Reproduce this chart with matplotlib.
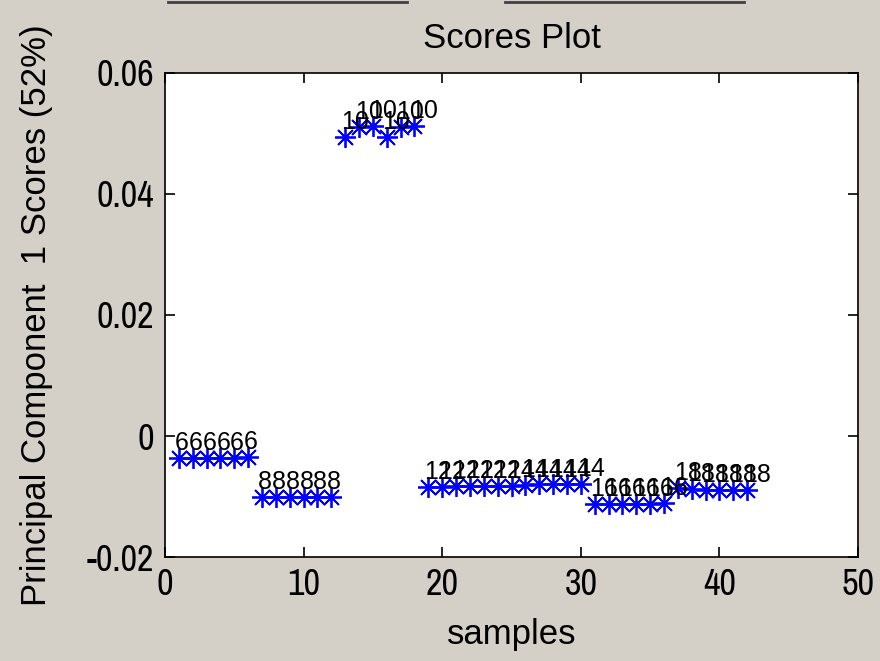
import matplotlib
matplotlib.use("Agg")
from matplotlib import pyplot as plt
from matplotlib import font_manager
from matplotlib.lines import Line2D

# use a condensed face for the tick numbers when one is installed
narrow_files = [f for f in font_manager.findSystemFonts()
                if "narrow" in f.lower() and "bold" not in f.lower()
                and "italic" not in f.lower()]
if narrow_files:
    tick_font = font_manager.FontProperties(fname=sorted(narrow_files)[0], size=26)
else:
    tick_font = font_manager.FontProperties(family="Liberation Sans", size=22)

plt.rcParams["font.family"] = ["Liberation Sans", "DejaVu Sans"]

# first principal component score of each sample, grouped by class
samples = list(range(1, 43))
scores = [
    -0.0036, -0.0036, -0.0036, -0.0036, -0.0036, -0.0035,
    -0.0101, -0.0101, -0.0101, -0.0100, -0.0101, -0.0101,
    0.0494, 0.0511, 0.0512, 0.0494, 0.0511, 0.0512,
    -0.0084, -0.0084, -0.0083, -0.0083, -0.0083, -0.0082,
    -0.0082, -0.0081, -0.0080, -0.0080, -0.0080, -0.0079,
    -0.0112, -0.0112, -0.0112, -0.0112, -0.0112, -0.0111,
    -0.0086, -0.0088, -0.0089, -0.0089, -0.0089, -0.0089,
]
class_labels = (
    ["6"] * 6 + ["8"] * 6 + ["10"] * 6 + ["12"] * 6 + ["14"] * 6
    + ["16"] * 6 + ["18"] * 6
)

x_ticks = [0, 10, 20, 30, 40, 50]
y_ticks = [-0.02, 0, 0.02, 0.04, 0.06]
y_tick_labels = ["-0.02", "0", "0.02", "0.04", "0.06"]

bg = "#d4d0c8"
fig = plt.figure(figsize=(8.8, 6.61), dpi=100, facecolor=bg)
ax = fig.add_axes([0.1875, 0.1573, 0.7875, 0.7323])
ax.set_facecolor("white")

ax.plot(samples, scores, linestyle="none", marker=(8, 2, 0), markersize=15,
        markeredgewidth=1.3, color="#0000ff")
for x, y, lab in zip(samples, scores, class_labels):
    ax.annotate(lab, (x, y), xytext=(-3, 2), textcoords="offset points",
                ha="left", va="bottom", fontsize=18, color="black")

ax.set_xlim(0, 50)
ax.set_ylim(-0.02, 0.06)
ax.set_xticks(x_ticks)
ax.set_xticklabels([str(t) for t in x_ticks], fontproperties=tick_font)
ax.set_yticks(y_ticks)
ax.set_yticklabels(y_tick_labels, fontproperties=tick_font)
ax.tick_params(direction="in", length=7, width=1.2, top=True, right=True,
               pad=8, colors="black")
for side in ax.spines.values():
    side.set_linewidth(1.2)

ax.set_title("Scores Plot", fontsize=25, pad=18)
ax.set_xlabel("samples", fontsize=25, labelpad=12)
ax.set_ylabel("Principal Component  1 Scores (52%)", fontsize=25, labelpad=24)

# edges of the controls above the figure
for x0, x1 in [(168, 407), (505, 744)]:
    fig.add_artist(Line2D([x0 / 880, x1 / 880], [0.997, 0.997],
                          color="#404040", linewidth=2))

fig.savefig("out.png", dpi=100, facecolor=bg)
